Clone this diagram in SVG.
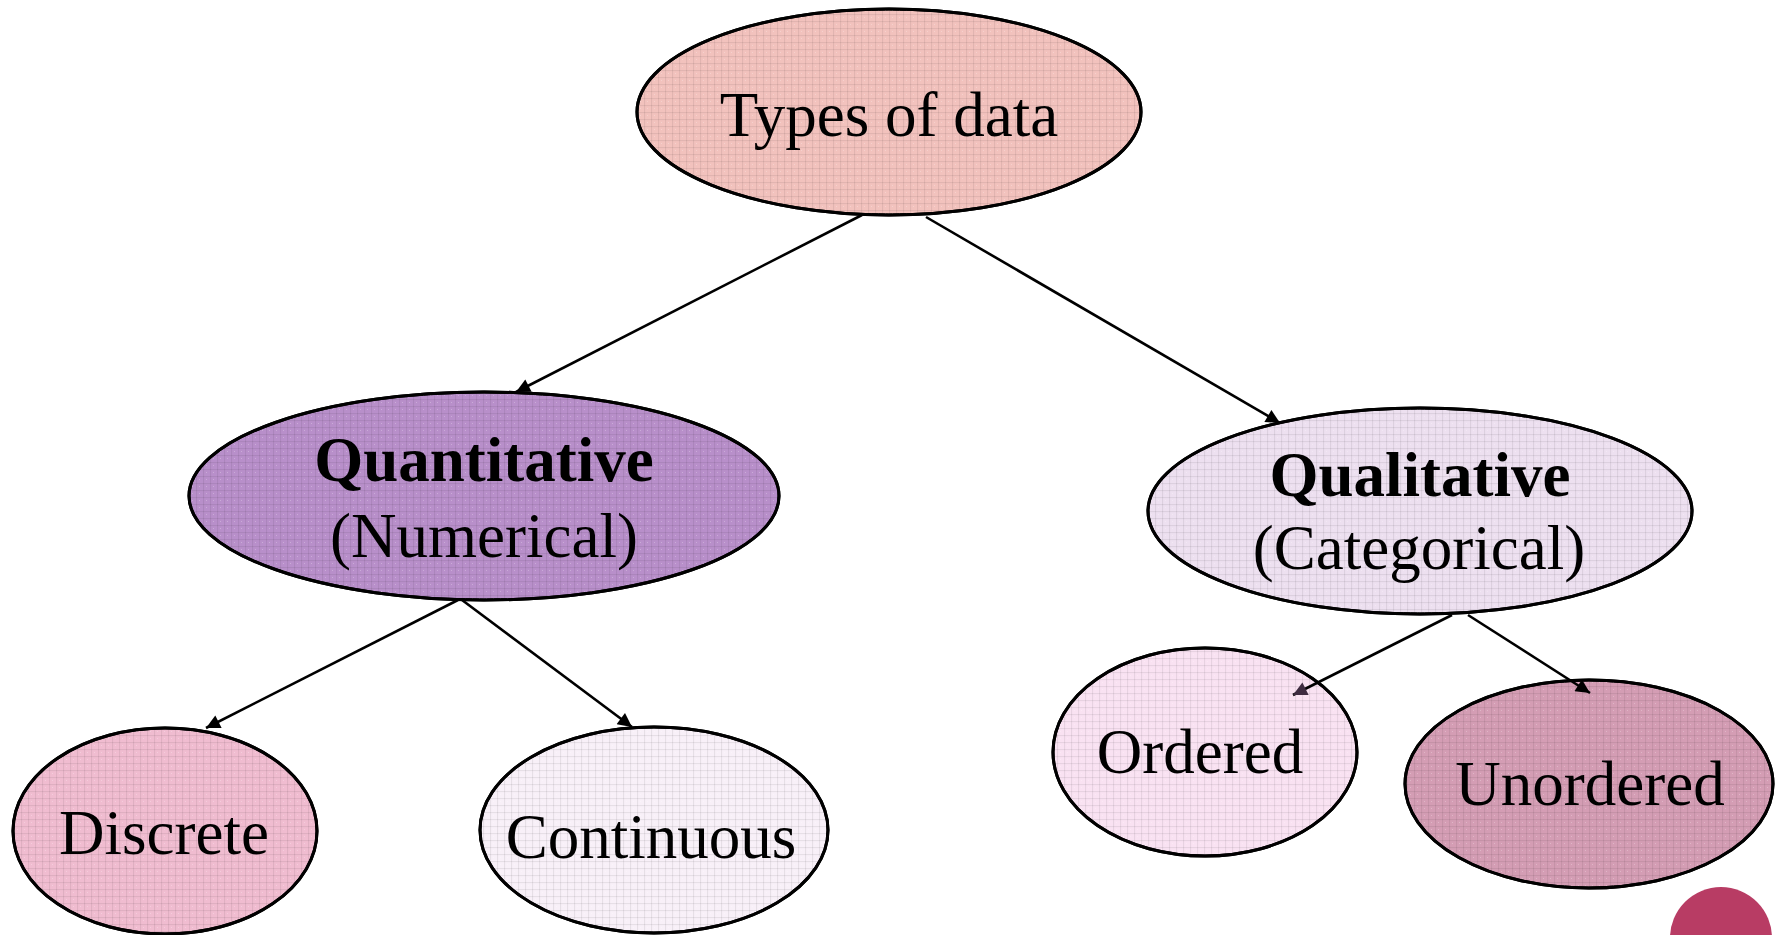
<svg xmlns="http://www.w3.org/2000/svg" width="1775" height="935" viewBox="0 0 1775 935">
  <style>
    .node-shape { stroke: #000; stroke-width: 3; }
    .texture { fill: url(#grid); stroke: #000; stroke-width: 3; }
    .label { font-family: "Liberation Serif", "Times New Roman", serif; font-size: 63px; fill: #000; text-anchor: middle; }
    .bold { font-weight: bold; }
    .edge { stroke: #000; stroke-width: 2.6; fill: none; marker-end: url(#arrow); }
    .edge-dim { marker-end: url(#arrow-dim); }
  </style>
  <defs>
    <!-- fine woven grid laid over every bubble fill -->
    <pattern id="grid" width="7" height="7" patternUnits="userSpaceOnUse">
      <rect x="0" y="0" width="7" height="7" fill="none"/>
      <line x1="0" y1="0.5" x2="7" y2="0.5" stroke="#000" stroke-opacity="0.07" stroke-width="1.2"/>
      <line x1="0.5" y1="0" x2="0.5" y2="7" stroke="#000" stroke-opacity="0.07" stroke-width="1.2"/>
      <rect x="3" y="3" width="1" height="1" fill="#fff" fill-opacity="0.25"/>
    </pattern>
    <marker id="arrow" viewBox="0 0 10 10" refX="10" refY="5" markerWidth="18" markerHeight="14" markerUnits="userSpaceOnUse" orient="auto">
      <path d="M0,0 L10,5 L0,10 z" fill="#000"/>
    </marker>
    <marker id="arrow-dim" viewBox="0 0 10 10" refX="10" refY="5" markerWidth="18" markerHeight="14" markerUnits="userSpaceOnUse" orient="auto">
      <path d="M0,0 L10,5 L0,10 z" fill="#3e2b40"/>
    </marker>
  </defs>

  <rect x="0" y="0" width="1775" height="935" fill="#fff"/>

  <g id="types-of-data">
    <ellipse class="node-shape" cx="889" cy="112" rx="252" ry="103" fill="#f2c2bd"/>
    <ellipse class="texture" cx="889" cy="112" rx="252" ry="103"/>
    <text class="label" x="889" y="136">Types of data</text>
  </g>

  <g id="quantitative">
    <ellipse class="node-shape" cx="484" cy="496" rx="295" ry="104" fill="#b88fca"/>
    <ellipse class="texture" cx="484" cy="496" rx="295" ry="104"/>
    <text class="label bold" x="484" y="481">Quantitative</text>
    <text class="label" x="484" y="557">(Numerical)</text>
  </g>

  <g id="qualitative">
    <ellipse class="node-shape" cx="1420" cy="511" rx="272" ry="103" fill="#ede0f0"/>
    <ellipse class="texture" cx="1420" cy="511" rx="272" ry="103"/>
    <text class="label bold" x="1420" y="496">Qualitative</text>
    <text class="label" x="1419" y="569">(Categorical)</text>
  </g>

  <g id="discrete">
    <ellipse class="node-shape" cx="165" cy="831" rx="152" ry="103" fill="#f0bcd0"/>
    <ellipse class="texture" cx="165" cy="831" rx="152" ry="103"/>
    <text class="label" x="164" y="854">Discrete</text>
  </g>

  <g id="continuous">
    <ellipse class="node-shape" cx="654" cy="830" rx="174" ry="103" fill="#f8f0f8"/>
    <ellipse class="texture" cx="654" cy="830" rx="174" ry="103"/>
    <text class="label" x="651" y="858">Continuous</text>
  </g>

  <g id="ordered">
    <ellipse class="node-shape" cx="1205" cy="752" rx="152" ry="104" fill="#f9e2f2"/>
    <ellipse class="texture" cx="1205" cy="752" rx="152" ry="104"/>
    <text class="label" x="1200" y="773">Ordered</text>
  </g>

  <g id="unordered">
    <ellipse class="node-shape" cx="1589" cy="784" rx="184" ry="104" fill="#d49db4"/>
    <ellipse class="texture" cx="1589" cy="784" rx="184" ry="104"/>
    <text class="label" x="1590" y="805">Unordered</text>
  </g>

  <g id="connectors">
    <line class="edge" x1="862" y1="215" x2="516" y2="392"/>
    <line class="edge" x1="926" y1="217" x2="1280" y2="423"/>
    <line class="edge" x1="458" y1="600" x2="206" y2="728"/>
    <line class="edge" x1="462" y1="600" x2="632" y2="727"/>
    <line class="edge edge-dim" x1="1452" y1="615" x2="1293" y2="695"/>
    <line class="edge" x1="1468" y1="615" x2="1590" y2="693"/>
  </g>

  <!-- corner badge -->
  <circle cx="1721" cy="938" r="51" fill="#b83c64"/>
</svg>
